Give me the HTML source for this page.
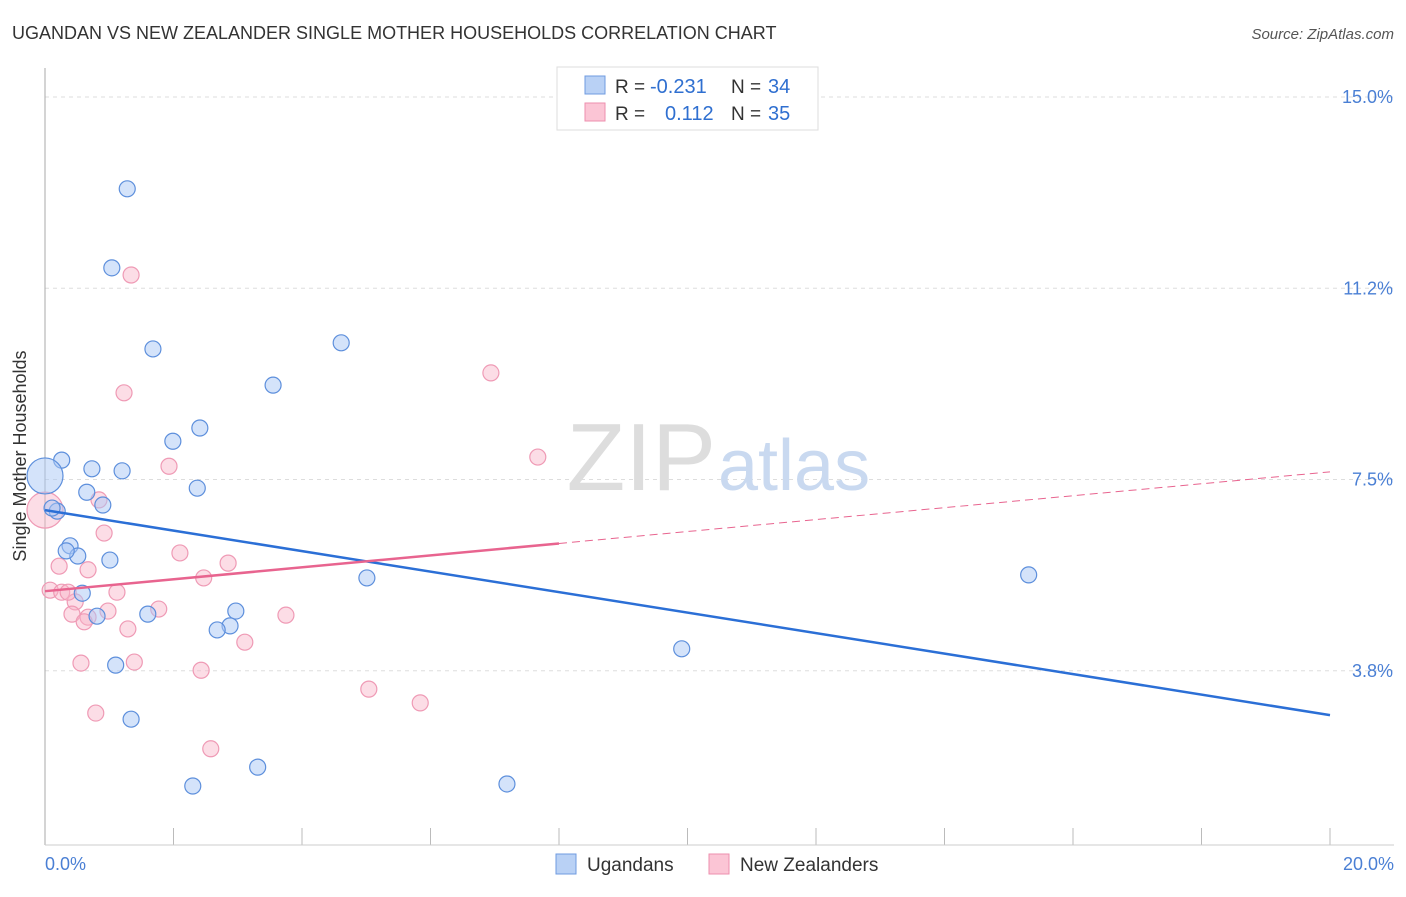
<!DOCTYPE html>
<html><head><meta charset="utf-8"><style>
body{margin:0;background:#fff;font-family:"Liberation Sans",sans-serif}
svg text{font-family:"Liberation Sans",sans-serif}
</style></head><body>
<svg width="1406" height="892" xmlns="http://www.w3.org/2000/svg">
<text x="12" y="39" font-size="18" fill="#333">UGANDAN VS NEW ZEALANDER SINGLE MOTHER HOUSEHOLDS CORRELATION CHART</text>
<text x="1394" y="39" font-size="15" fill="#555" text-anchor="end" font-style="italic">Source: ZipAtlas.com</text>
<g id="grid"></g>
<text x="716" y="490" font-size="96" font-family="Liberation Serif" fill="#ddd" text-anchor="end">ZIP</text>
<text x="718" y="490" font-size="72" fill="#c9d9f0">atlas</text>
<line x1="45" y1="68" x2="45" y2="845" stroke="#aaa"/>
<line x1="45" y1="845" x2="1394" y2="845" stroke="#ccc"/>
<g id="points"></g>
<g id="lines"></g>
<text x="26" y="456" font-size="18" fill="#333" text-anchor="middle" transform="rotate(-90 26 456)">Single Mother Households</text>
<text x="45" y="870" font-size="18" fill="#4a7fd4">0.0%</text>
<text x="1394" y="870" font-size="18" fill="#4a7fd4" text-anchor="end">20.0%</text>
<g>
<rect x="557" y="67" width="261" height="63" fill="#fff" stroke="#ddd"/>
<rect x="585" y="76" width="20" height="18" fill="#b9d1f5" stroke="#6f9be0"/>
<rect x="585" y="103" width="20" height="18" fill="#fbc5d5" stroke="#ee8fae"/>
<text x="615" y="93" font-size="19" fill="#333">R =</text>
<text x="650" y="93" font-size="20" fill="#2f6fd0">-0.231</text>
<text x="731" y="93" font-size="19" fill="#333">N =</text>
<text x="768" y="93" font-size="20" fill="#2f6fd0">34</text>
<text x="615" y="120" font-size="19" fill="#333">R =</text>
<text x="665" y="120" font-size="20" fill="#2f6fd0">0.112</text>
<text x="731" y="120" font-size="19" fill="#333">N =</text>
<text x="768" y="120" font-size="20" fill="#2f6fd0">35</text>
</g>
<g>
<rect x="556" y="854" width="20" height="20" fill="#b9d1f5" stroke="#6f9be0"/>
<text x="587" y="871" font-size="19" fill="#333">Ugandans</text>
<rect x="709" y="854" width="20" height="20" fill="#fbc5d5" stroke="#ee8fae"/>
<text x="740" y="871" font-size="19" fill="#333">New Zealanders</text>
</g>
</svg>
<script>
const blueX=[1.28,1.04,1.68,4.61,3.55,2.41,1.99,0.26,0.73,1.20,2.37,0.65,0.90,0.19,0.39,0.51,1.01,0.33,5.01,0.58,0.81,1.60,2.97,2.88,2.68,1.10,1.34,9.91,3.31,2.30,7.19,15.31,0,0.11];
const blueY=[13.20,11.65,10.06,10.18,9.35,8.51,8.25,7.88,7.71,7.67,7.33,7.25,7.0,6.88,6.20,6.0,5.92,6.10,5.57,5.27,4.82,4.86,4.92,4.63,4.55,3.86,2.80,4.18,1.86,1.49,1.53,5.63,7.57,6.94];
const pinkX=[1.34,1.23,6.94,7.67,1.93,0.84,0.92,2.10,2.85,0.22,0.67,2.47,0.08,0.26,0.47,0.36,1.12,1.77,0.98,0.42,0.67,0.61,1.29,3.75,3.11,0.56,1.39,2.43,5.04,5.84,0.79,2.58,0];
const pinkY=[11.51,9.20,9.59,7.94,7.76,7.10,6.45,6.06,5.86,5.80,5.73,5.57,5.33,5.29,5.10,5.29,5.29,4.96,4.92,4.86,4.80,4.71,4.57,4.84,4.31,3.90,3.92,3.76,3.39,3.12,2.92,2.22,6.90];
const yTicks=[15.0,11.25,7.5,3.75];
const yTickLabels=["15.0%","11.2%","7.5%","3.8%"];
const blueTrend=[6.90,2.88];
const pinkTrend=[5.31,7.65];
const sx=v=>45+v/20*1285, sy=v=>97+(15-v)*51.0;
const NS="http://www.w3.org/2000/svg";
function mk(t,a,p){const e=document.createElementNS(NS,t);for(const k in a)e.setAttribute(k,a[k]);p.appendChild(e);return e;}
const grid=document.getElementById('grid');
yTicks.forEach((v,i)=>{
 const l=mk('line',{x1:45,x2:1394,y1:sy(v),y2:sy(v),stroke:'#ddd','stroke-dasharray':'4,4'},grid);
 
 
 const t=mk('text',{x:1393,y:sy(v)+6,'font-size':18,fill:'#4a7fd4','text-anchor':'end'},grid);
 t.textContent=yTickLabels[i];
 
 
});
for(let i=1;i<=10;i++){
 const l=mk('line',{x1:sx(i*2),x2:sx(i*2),y1:828,y2:845,stroke:'#bbb'},grid);
 
 
}
const pts=document.getElementById('points');
pinkX.forEach((x,i)=>{
 const big=i===pinkX.length-1;
 const c=mk('circle',{cx:sx(x),cy:sy(pinkY[i]),r:big?18:8,fill:'rgba(248,180,200,0.45)',stroke:'#ef9ab5','stroke-width':1.2},pts);
 
 
});
blueX.forEach((x,i)=>{
 const big=i===blueX.length-2;
 const c=mk('circle',{cx:sx(x),cy:sy(blueY[i]),r:big?18:8,fill:'rgba(170,200,245,0.5)',stroke:'#5d8fdc','stroke-width':1.2},pts);
 
 
});
const ln=document.getElementById('lines');
let b=mk('line',{x1:sx(0),y1:sy(blueTrend[0]),x2:sx(20),y2:sy(blueTrend[1]),stroke:'#2b6fd6','stroke-width':2.5},ln);


const pm=pinkTrend[0]+(pinkTrend[1]-pinkTrend[0])*0.4;
let p1=mk('line',{x1:sx(0),y1:sy(pinkTrend[0]),x2:sx(8),y2:sy(pm),stroke:'#e8648f','stroke-width':2.5},ln);


let p2=mk('line',{x1:sx(8),y1:sy(pm),x2:sx(20),y2:sy(pinkTrend[1]),stroke:'#e8648f','stroke-width':1,'stroke-dasharray':'8,5'},ln);


</script>
</body></html>
